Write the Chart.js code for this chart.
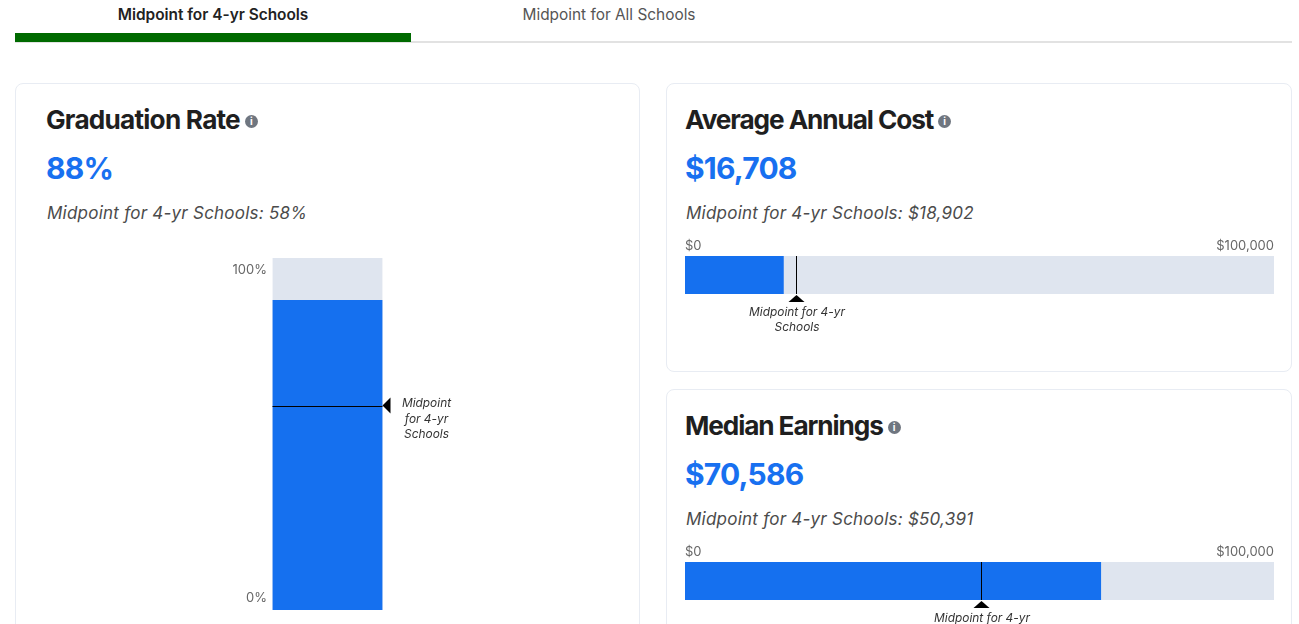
<!DOCTYPE html>
<html><head><meta charset="utf-8">
<script src="https://cdn.jsdelivr.net/npm/chart.js@4"></script>
<style>
html,body{margin:0;padding:0;width:1299px;height:624px;overflow:hidden;background:#fff;font-family:Inter,sans-serif}
.abs,.card,canvas{position:absolute}
.card{background:#fff;border:1px solid #e8ecf3;border-radius:8px;box-sizing:border-box}
.tab{position:absolute;top:6px;font-size:15.4px;line-height:18px;transform:translateX(-50%);white-space:nowrap}
.title{position:absolute;font-size:26.2px;font-weight:700;line-height:30px;letter-spacing:-1.1px;color:#1f1f1f;white-space:nowrap}
.info{display:inline-block;width:13px;height:13px;border-radius:50%;background:#6f7680;color:#fff;font-size:10px;font-weight:700;line-height:13px;text-align:center;letter-spacing:0;margin-left:5px;vertical-align:4px}
.value{position:absolute;font-size:30px;font-weight:700;line-height:36px;letter-spacing:-.8px;color:#1870f0;white-space:nowrap}
.sub{position:absolute;font-size:17px;font-style:italic;line-height:22px;letter-spacing:.23px;color:#4b4b4b;white-space:nowrap}
</style></head>
<body>
<div class="tab" style="left:213px;font-weight:600;color:#222">Midpoint for 4-yr Schools</div>
<div class="tab" style="left:609px;color:#555">Midpoint for All Schools</div>
<div class="abs" style="left:15px;top:41px;width:1277px;height:2px;background:#e2e2e2"></div>
<div class="abs" style="left:15px;top:33px;width:396px;height:9px;background:#006a00"></div>

<div class="card" style="left:15px;top:83px;width:625px;height:600px"></div>
<div class="card" style="left:666px;top:83px;width:626px;height:289px"></div>
<div class="card" style="left:666px;top:389px;width:626px;height:300px"></div>

<div class="title" style="left:46px;top:104.5px;letter-spacing:-.78px">Graduation Rate<span class="info">i</span></div>
<div class="value" style="left:46px;top:150px">88%</div>
<div class="sub" style="left:47px;top:202px">Midpoint for 4-yr Schools: 58%</div>

<div class="title" style="left:685px;top:104.5px">Average Annual Cost<span class="info">i</span></div>
<div class="value" style="left:685px;top:150px">$16,708</div>
<div class="sub" style="left:686px;top:202px">Midpoint for 4-yr Schools: $18,902</div>

<div class="title" style="left:685px;top:410.5px">Median Earnings<span class="info">i</span></div>
<div class="value" style="left:685px;top:456px">$70,586</div>
<div class="sub" style="left:686px;top:508px">Midpoint for 4-yr Schools: $50,391</div>

<canvas id="grad" style="left:200px;top:240px;width:300px;height:384px"></canvas>
<canvas id="cost" style="left:675px;top:236px;width:609px;height:110px"></canvas>
<canvas id="earn" style="left:675px;top:542px;width:609px;height:110px"></canvas>

<script>
const gradCategories = ['Graduation Rate'];
const gradValues = [88];
const gradMidpoint = [58];
const gradTrack = [100];
const gradTicks = [0, 100];
const gradMidpointLabel = ['Midpoint', 'for 4-yr', 'Schools'];

const costCategories = ['Average Annual Cost'];
const costValues = [16708];
const costMidpoint = [18902];
const costTrack = [100000];

const earnCategories = ['Median Earnings'];
const earnValues = [70586];
const earnMidpoint = [50391];
const earnTrack = [100000];

const moneyTicks = [0, 100000];
const moneyMidpointLabel = ['Midpoint for 4-yr', 'Schools'];

const BLUE = '#1570ef', TRACK = '#dfe5ef';
const LABEL_FONT = 'italic 11.9px Inter, sans-serif';
const TICK_FONT = '13px Inter, sans-serif';

function midpointPlugin(horizontal, mid, lines) {
  return {
    id: 'midpoint',
    afterDatasetsDraw(chart) {
      const c = chart.ctx, a = chart.chartArea;
      c.save();
      c.fillStyle = '#000'; c.strokeStyle = '#000'; c.lineWidth = 1;
      c.beginPath();
      if (horizontal) {
        const x = Math.floor(chart.scales.x.getPixelForValue(mid)) + 0.5;
        c.moveTo(x, a.top); c.lineTo(x, a.bottom); c.stroke();
        c.beginPath();
        c.moveTo(x, a.bottom + 1); c.lineTo(x + 8, a.bottom + 8); c.lineTo(x - 8, a.bottom + 8);
        c.closePath(); c.fill();
        c.fillStyle = '#333'; c.font = LABEL_FONT; c.textAlign = 'center'; c.textBaseline = 'middle';
        lines.forEach((t, i) => c.fillText(t, x + 0.5, a.bottom + 18 + i * 15.5));
      } else {
        const y = Math.round(chart.scales.y.getPixelForValue(mid)) + 0.5;
        c.moveTo(a.left, y); c.lineTo(a.right, y); c.stroke();
        c.beginPath();
        c.moveTo(a.right, y - 1); c.lineTo(a.right + 8, y - 9); c.lineTo(a.right + 8, y + 7);
        c.closePath(); c.fill();
        c.fillStyle = '#333'; c.font = LABEL_FONT; c.textAlign = 'center'; c.textBaseline = 'middle';
        lines.forEach((t, i) => c.fillText(t, a.right + 44, y - 3 + i * 15.5));
      }
      c.restore();
    }
  };
}

const insetTicks = {
  id: 'insetTicks',
  afterDraw(chart) {
    const c = chart.ctx, s = chart.scales.y, a = chart.chartArea;
    c.save();
    c.font = TICK_FONT; c.fillStyle = '#666'; c.textAlign = 'right'; c.textBaseline = 'middle';
    s.ticks.forEach(t => {
      const inset = t.value === s.max ? 12 : -12;
      c.fillText(t.value + '%', a.left - 5.5, s.getPixelForValue(t.value) + inset);
    });
    c.restore();
  }
};

function bars(labels, values, track) {
  return {
    labels,
    datasets: [
      {label: 'Value', data: values, backgroundColor: BLUE, order: 1, grouped: false, barPercentage: 1, categoryPercentage: 1},
      {label: 'Range', data: track, backgroundColor: TRACK, order: 2, grouped: false, barPercentage: 1, categoryPercentage: 1}
    ]
  };
}
const base = {responsive: false, animation: false, plugins: {legend: {display: false}, tooltip: {enabled: false}}};

function size(id) {
  const el = document.getElementById(id);
  el.width = parseInt(el.style.width); el.height = parseInt(el.style.height);
  return el;
}

new Chart(size('grad'), {
  type: 'bar',
  data: bars(gradCategories, gradValues, gradTrack),
  plugins: [midpointPlugin(false, gradMidpoint[0], gradMidpointLabel), insetTicks],
  options: {...base,
    layout: {padding: {left: 72.5, right: 117.5, top: 18, bottom: 14}},
    scales: {
      x: {display: false},
      y: {min: gradTicks[0], max: gradTicks[1], grid: {display: false}, border: {display: false},
          afterBuildTicks: s => { s.ticks = gradTicks.map(value => ({value})); },
          afterFit: s => { s.width = 0; },
          ticks: {display: false}}
    }
  }
});

function horizontal(id, cats, vals, track, mid) {
  new Chart(size(id), {
    type: 'bar',
    data: bars(cats, vals, track),
    plugins: [midpointPlugin(true, mid, moneyMidpointLabel)],
    options: {...base, indexAxis: 'y',
      layout: {padding: {left: 10, right: 10, top: 0, bottom: 52}},
      scales: {
        y: {display: false},
        x: {position: 'top', min: moneyTicks[0], max: moneyTicks[1],
            grid: {display: false, drawTicks: false}, border: {display: false},
            afterBuildTicks: s => { s.ticks = moneyTicks.map(value => ({value})); },
            afterFit: s => { s.height = 20; },
            ticks: {autoSkip: false, maxRotation: 0, align: 'inner', padding: 2, color: '#666',
                    font: {family: 'Inter, sans-serif', size: 13},
                    callback: v => '$' + Number(v).toLocaleString('en-US')}}
      }
    }
  });
}
horizontal('cost', costCategories, costValues, costTrack, costMidpoint[0]);
horizontal('earn', earnCategories, earnValues, earnTrack, earnMidpoint[0]);
</script>
</body></html>
